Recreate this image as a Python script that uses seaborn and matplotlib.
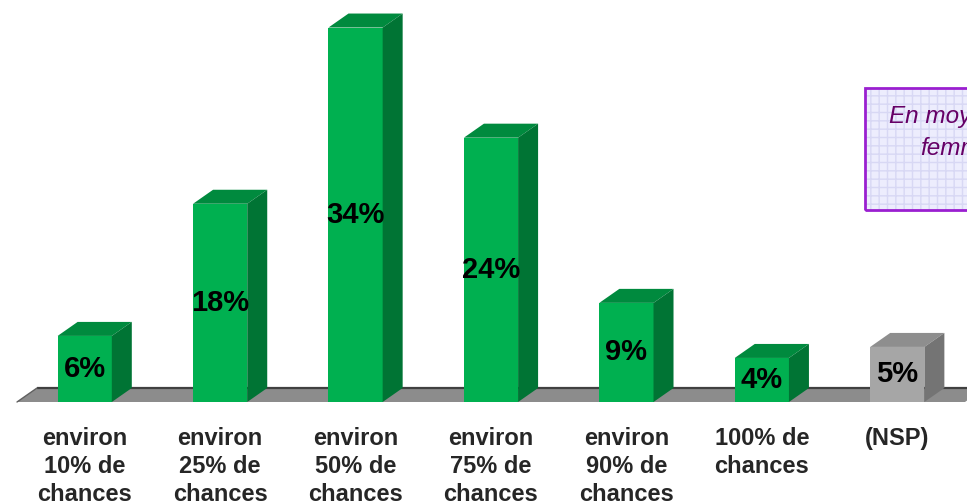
import matplotlib
matplotlib.use("Agg")
import matplotlib.pyplot as plt
import seaborn as sns
import pandas as pd
from matplotlib.patches import Polygon, Rectangle

# data
categories = ["environ\n10% de\nchances", "environ\n25% de\nchances", "environ\n50% de\nchances",
              "environ\n75% de\nchances", "environ\n90% de\nchances", "100% de\nchances", "(NSP)"]
values = [6, 18, 34, 24, 9, 4, 5]
value_labels = ["6%", "18%", "34%", "24%", "9%", "4%", "5%"]

# colours: front, top, side
green = ("#00b050", "#008a3e", "#007434")
grey = ("#a6a6a6", "#8e8e8e", "#747474")
bar_colors = [green] * 6 + [grey]

df = pd.DataFrame({"cat": categories, "val": values})

sns.set_style("white")
plt.rcParams["font.family"] = ["Liberation Sans", "DejaVu Sans"]

fig = plt.figure(figsize=(9.67, 5.04), dpi=100)
ax = fig.add_axes([17 / 967, 102 / 504, 948 / 967, 402 / 504])

sns.barplot(data=df, x="cat", y="val", hue="cat", legend=False,
            palette=[c[0] for c in bar_colors], width=0.4,
            saturation=1, ax=ax, zorder=3, linewidth=0)

ax.set_xlim(-0.5, len(categories) - 0.5)
ax.set_ylim(0, 36.5)

# 3D depth in data units (about 20 px right, 14 px up)
dx = 20 / (948 / len(categories))
dy = 14 / (402 / 36.5)

# floor
x0, x1 = ax.get_xlim()
floor = Polygon([(x0, 0), (x1, 0), (x1 + dx, dy), (x0 + dx, dy)],
                closed=True, facecolor="#8c8c8c", edgecolor="none",
                clip_on=False, zorder=1)
ax.add_patch(floor)
ax.plot([x0 + dx, x1 + dx], [dy, dy], color="#404040", lw=1.6,
        clip_on=False, zorder=2, solid_capstyle="butt")
ax.plot([x0, x0 + dx], [0, dy], color="#606060", lw=1.0,
        clip_on=False, zorder=2)

# 3D top and side faces of each bar, plus value labels
for bar, cols, lab in zip(ax.patches[:len(values)], bar_colors, value_labels):
    bx, bw, bh = bar.get_x(), bar.get_width(), bar.get_height()
    top = Polygon([(bx, bh), (bx + bw, bh), (bx + bw + dx, bh + dy), (bx + dx, bh + dy)],
                  closed=True, facecolor=cols[1], edgecolor="none",
                  clip_on=False, zorder=3)
    side = Polygon([(bx + bw, 0), (bx + bw + dx, dy), (bx + bw + dx, bh + dy), (bx + bw, bh)],
                   closed=True, facecolor=cols[2], edgecolor="none",
                   clip_on=False, zorder=3)
    ax.add_patch(top)
    ax.add_patch(side)
    ax.text(bx + bw / 2, bh / 2, lab, ha="center", va="center",
            fontsize=21, fontweight="bold", color="black", zorder=5)

for s in ax.spines.values():
    s.set_visible(False)
ax.set_yticks([])
ax.set_xlabel("")
ax.set_ylabel("")
ax.set_xticks(range(len(categories)))
ax.set_xticklabels(categories, fontsize=17, fontweight="bold", linespacing=1.28)
ax.set_xticks([i - 0.5 for i in range(len(categories) + 1)], minor=True)
ax.tick_params(axis="x", which="major", length=0, pad=18)
ax.tick_params(axis="x", which="minor", length=4.5, width=1.3, color="black",
               direction="out")
ax.patch.set_alpha(0)

# info box on the right (cut off by figure edge, as in the original)
box_x, box_y0, box_y1 = 865 / 967, 1 - 210 / 504, 1 - 88 / 504
fig.patches.append(Rectangle((box_x, box_y0), 0.5, box_y1 - box_y0,
                             transform=fig.transFigure, facecolor="#ededfd",
                             edgecolor="#d8d8f4", hatch="++", lw=0, zorder=0))
fig.patches.append(Rectangle((box_x, box_y0), 0.5, box_y1 - box_y0,
                             transform=fig.transFigure, facecolor="none",
                             edgecolor="#9a1fd0", lw=2, zorder=1))
fig.text(889 / 967, 1 - 116 / 504, "En moyenne", fontsize=17.5, style="italic",
         color="#660066", ha="left", va="center")
fig.text(920 / 967, 1 - 148 / 504, "femmes", fontsize=17.5, style="italic",
         color="#660066", ha="left", va="center")

fig.savefig("out.png", dpi=100)
